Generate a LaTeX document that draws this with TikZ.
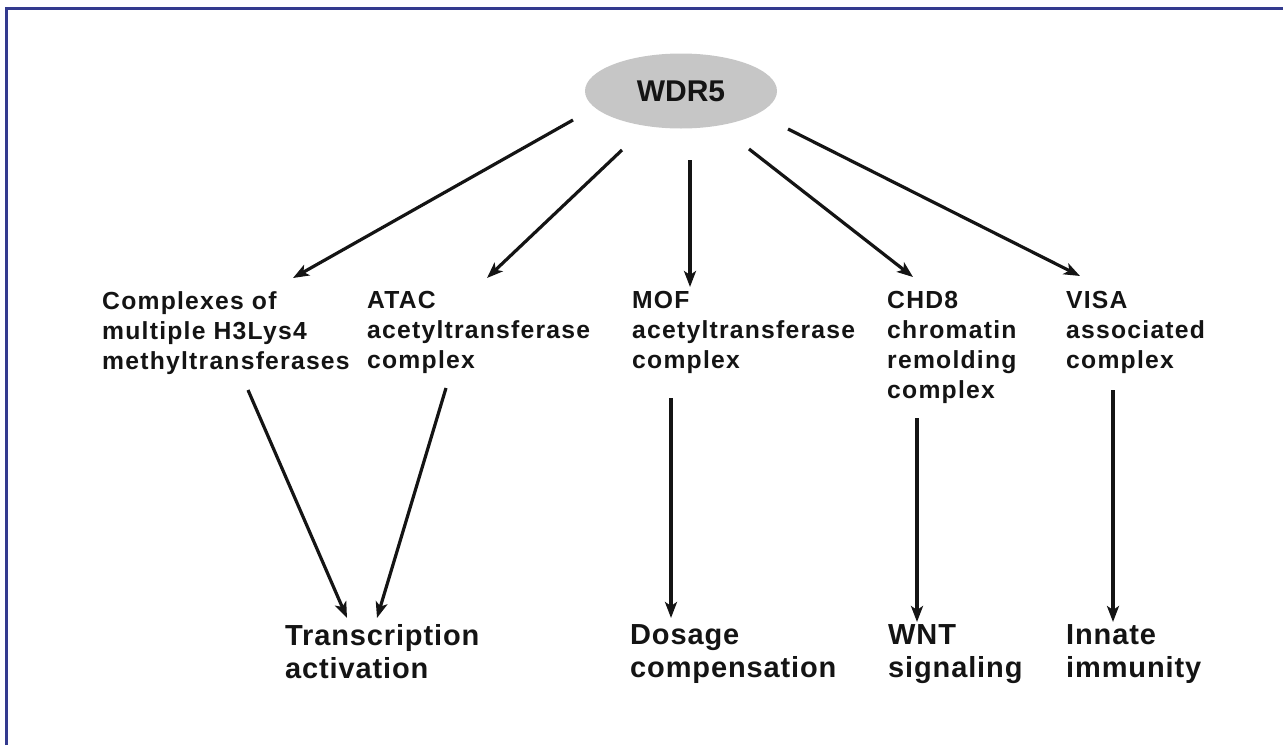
\documentclass[tikz,border=0pt]{standalone}
\usepackage{fontspec}
\setmainfont{Liberation Sans}
\newfontfamily\trackedsans[LetterSpace=5]{Liberation Sans}
\newfontfamily\widesans[LetterSpace=3]{Liberation Sans}
\usetikzlibrary{arrows.meta,positioning,shapes.geometric}
\definecolor{frameblue}{HTML}{333A8E}
\definecolor{hubgray}{HTML}{C6C6C6}
\definecolor{inkblack}{HTML}{141414}

\begin{document}
\begin{tikzpicture}[
        x=1pt, y=-1pt,
        topic/.style={
          anchor=north west,
          inner sep=0pt,
          align=left,
          text=inkblack,
          font=\trackedsans\bfseries\fontsize{24.7}{30}\selectfont
        },
        outcome/.style={
          anchor=north west,
          inner sep=0pt,
          align=left,
          text=inkblack,
          font=\widesans\bfseries\fontsize{29}{33}\selectfont
        },
        arrow/.style={
          -{Stealth[length=16pt,width=12pt,inset=4pt]},
          line width=3.2pt,
          inkblack
        }
      ]

      \useasboundingbox (0,0) rectangle (1283,745);
      \draw[frameblue, line width=3pt] (6,745) -- (6,8) -- (1283,8);

      \node[ellipse, fill=hubgray, minimum width=192pt, minimum height=75pt,
            text=inkblack, font=\bfseries\fontsize{30}{34}\selectfont] (wdr5) at (681,91) {WDR5};

      % complexes
      \node[topic] (hmt) at (102,291) {Complexes of\\multiple H3Lys4\\methyltransferases};
      \node[topic] (atac) at (367,291) {ATAC\\acetyltransferase\\complex};
      \node[topic] (mof) at (632,291) {MOF\\acetyltransferase\\complex};
      \node[topic] (chd8) at (887,291) {CHD8\\chromatin\\remolding\\complex};
      \node[topic] (visa) at (1066,291) {VISA\\associated\\complex};

      % outcomes
      \node[outcome] (trans) at (285,624) {Transcription\\activation};
      \node[outcome] (dosage) at (630,624) {Dosage\\compensation};
      \node[outcome] (wnt) at (888,624) {WNT\\signaling};
      \node[outcome] (innate) at (1066,624) {Innate\\immunity};

      % arrow ends
      \coordinate (w1) at (573,120);
      \coordinate (w2) at (622,150);
      \coordinate (w3) at (690,160);
      \coordinate (w4) at (749,149);
      \coordinate (w5) at (788,129);
      \coordinate (hmt in) at (293,278);
      \coordinate (atac in) at (487,278);
      \coordinate (mof in) at (690,287);
      \coordinate (chd8 in) at (913,277);
      \coordinate (visa in) at (1080,276);
      \coordinate (hmt out) at (248,390);
      \coordinate (atac out) at (446,388);
      \coordinate (mof out) at (671,398);
      \coordinate (chd8 out) at (917,418);
      \coordinate (visa out) at (1113,390);
      \coordinate (trans in1) at (347,618);
      \coordinate (trans in2) at (377,618);
      \coordinate (dosage in) at (671,618);
      \coordinate (wnt in) at (917,622);
      \coordinate (innate in) at (1113,622);

      \draw[arrow] (w1) -- (hmt in);
      \draw[arrow] (w2) -- (atac in);
      \draw[arrow] (w3) -- (mof in);
      \draw[arrow] (w4) -- (chd8 in);
      \draw[arrow] (w5) -- (visa in);

      \draw[arrow] (hmt out) -- (trans in1);
      \draw[arrow] (atac out) -- (trans in2);
      \draw[arrow] (mof out) -- (dosage in);
      \draw[arrow] (chd8 out) -- (wnt in);
      \draw[arrow] (visa out) -- (innate in);

      \end{tikzpicture}
\end{document}
